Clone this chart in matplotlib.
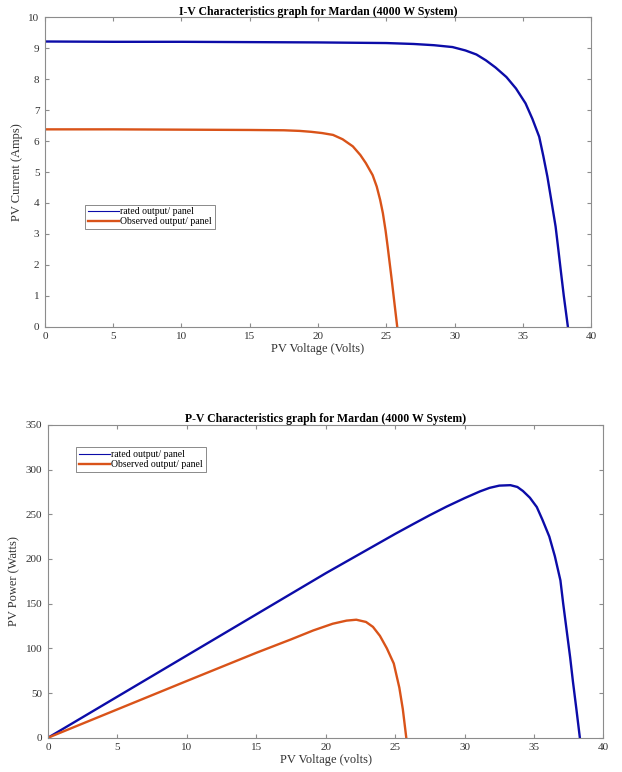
import matplotlib
matplotlib.use('Agg')
import matplotlib.pyplot as plt

plt.rcParams['font.family'] = ['Liberation Serif', 'DejaVu Serif']

# I-V data
v_rated_iv = [0, 5, 10, 15, 20, 25, 27, 28.5, 29.85, 30.8, 31.6, 32.3, 33.0, 33.8,
              34.5, 35.2, 35.7, 36.2, 36.5, 36.8, 37.1, 37.4, 37.6, 37.8, 38.0, 38.3]
i_rated_iv = [9.22, 9.21, 9.21, 9.2, 9.19, 9.17, 9.14, 9.1, 9.04, 8.93, 8.8, 8.61,
              8.38, 8.07, 7.7, 7.22, 6.72, 6.14, 5.52, 4.85, 4.05, 3.24, 2.5, 1.74,
              1.0, 0.0]
v_obs_iv = [0, 5, 10, 15, 17.5, 18.65, 19.5, 20.3, 21.1, 21.8, 22.55, 23.1, 23.5, 24.0,
            24.3, 24.55, 24.75, 24.95, 25.1, 25.25, 25.4, 25.6, 25.8]
i_obs_iv = [6.38, 6.38, 6.37, 6.36, 6.35, 6.33, 6.3, 6.26, 6.2, 6.06, 5.83, 5.55,
            5.29, 4.9, 4.53, 4.1, 3.67, 3.1, 2.59, 2.05, 1.51, 0.75, 0.0]

# P-V data
v_rated_pv = [0, 10, 20, 25, 26.3, 27.5, 28.7, 30.0, 31.1, 31.8, 32.5, 33.3, 33.8,
              34.2, 34.7, 35.2, 35.6, 36.1, 36.5, 36.9, 37.1, 37.35, 37.6, 37.8,
              38.05, 38.3]
p_rated_pv = [0, 92, 184, 228, 239, 249, 258.5, 268, 275.5, 279.5, 282, 282.5, 280.5,
              276, 268.5, 258, 244, 225, 203, 176, 150, 120, 90, 63, 32, 0]
v_obs_pv = [0, 10, 15, 17.5, 19.1, 20.5, 21.5, 22.2, 22.9, 23.4, 23.9, 24.4, 24.9,
            25.3, 25.55, 25.8]
p_obs_pv = [0, 63.5, 95, 110, 120, 127.5, 131, 132, 129.5, 124, 114, 100, 83, 56,
            32, 0]

blue = '#0c0ca8'
orange = '#d95319'
spine_gray = '#8c8c8c'


def style_axes(ax):
    for s in ax.spines.values():
        s.set_color(spine_gray)
        s.set_linewidth(0.8)
    ax.tick_params(direction='in', top=True, right=True, length=3,
                   color=spine_gray, labelsize=8, labelcolor='#333333', pad=4)


def add_legend(ax, anchor):
    leg = ax.legend(loc='upper left', bbox_to_anchor=anchor, fontsize=7,
                    frameon=True, fancybox=False, edgecolor='#555555',
                    handlelength=3.2, handletextpad=0.15, borderpad=0.3,
                    labelspacing=0.1, borderaxespad=0)
    leg.get_frame().set_linewidth(0.6)
    leg.get_lines()[0].set_linewidth(0.8)
    return leg


fig = plt.figure(figsize=(6.22, 7.72), dpi=100)

# I-V characteristics
ax1 = fig.add_axes([0.0723, 0.5768, 0.878, 0.4007])
ax1.plot(v_rated_iv, i_rated_iv, color=blue, linewidth=1.7, label='rated output/ panel')
ax1.plot(v_obs_iv, i_obs_iv, color=orange, linewidth=1.7, label='Observed output/ panel')
ax1.set_xlim(0, 40)
ax1.set_ylim(0, 10)
ax1.set_xticks(range(0, 41, 5))
ax1.set_yticks(range(0, 11))
ax1.set_title('I-V Characteristics graph for Mardan (4000 W System)',
              fontsize=8.5, fontweight='bold', pad=2)
ax1.set_xlabel('PV Voltage (Volts)', fontsize=9, color='#333333', labelpad=1)
ax1.set_ylabel('PV Current (Amps)', fontsize=9, color='#333333', labelpad=4)
style_axes(ax1)
add_legend(ax1, (0.073, 0.395))

# P-V characteristics
ax2 = fig.add_axes([0.0772, 0.0444, 0.893, 0.4053])
ax2.plot(v_rated_pv, p_rated_pv, color=blue, linewidth=1.7, label='rated output/ panel')
ax2.plot(v_obs_pv, p_obs_pv, color=orange, linewidth=1.7, label='Observed output/ panel')
ax2.set_xlim(0, 40)
ax2.set_ylim(0, 350)
ax2.set_xticks(range(0, 41, 5))
ax2.set_yticks(range(0, 351, 50))
ax2.set_title('P-V Characteristics graph for Mardan (4000 W System)',
              fontsize=8.5, fontweight='bold', pad=2)
ax2.set_xlabel('PV Voltage (volts)', fontsize=9, color='#333333', labelpad=1)
ax2.set_ylabel('PV Power (Watts)', fontsize=9, color='#333333', labelpad=4)
style_axes(ax2)
add_legend(ax2, (0.05, 0.929))

fig.savefig('out.png', dpi=100)
